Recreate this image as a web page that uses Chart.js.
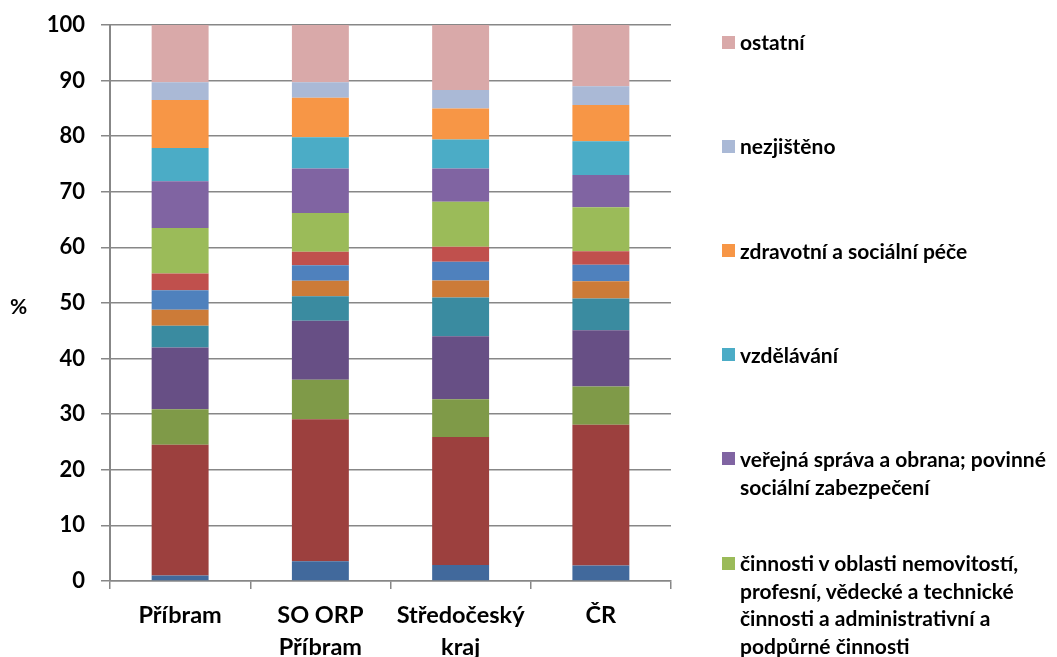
<!DOCTYPE html>
<html>
<head>
<meta charset="utf-8">
<script src="https://cdn.jsdelivr.net/npm/chart.js@4"></script>
<style>
  html, body { margin: 0; padding: 0; background: #fff; }
  #wrap { position: relative; width: 1057px; height: 657px; font-family: Lato, "Open Sans", sans-serif; font-weight: 700; color: #000; }
  #c { position: absolute; left: 0; top: 0; }
  #ytitle { position: absolute; left: 10px; top: 292px; font-size: 21px; line-height: 28px; }
  #legend { position: absolute; left: 722px; top: 0; width: 335px; }
  .li { position: absolute; left: 0; font-size: 21px; line-height: 27.5px; white-space: pre-line; }
  .li .box { position: absolute; left: 0; top: 7.25px; width: 13px; height: 13px; }
  .li .txt { position: absolute; left: 18px; top: 0; width: 320px; }
</style>
</head>
<body>
<div id="wrap">
  <canvas id="c" width="1057" height="657"></canvas>
  <div id="ytitle">%</div>
  <div id="legend"></div>
</div>
<script>
// Categories
const categories = ['Příbram', ['SO ORP', 'Příbram'], ['Středočeský', 'kraj'], 'ČR'];

// Series values (percent), bottom to top of each stack
const zemedelstvi   = [1.0, 3.55, 2.9, 2.8];
const prumysl       = [23.5, 25.55, 23.0, 25.3];
const stavebnictvi  = [6.4, 7.1, 6.8, 6.9];
const obchod        = [11.1, 10.6, 11.3, 10.1];
const doprava       = [3.9, 4.4, 7.0, 5.7];
const ubytovani     = [2.9, 2.8, 3.05, 3.1];
const informacni    = [3.5, 2.8, 3.35, 3.0];
const penezni       = [3.0, 2.4, 2.7, 2.4];
const nemovitosti   = [8.2, 7.0, 8.1, 7.9];
const verejnaSprava = [8.4, 8.0, 6.0, 5.8];
const vzdelavani    = [6.0, 5.6, 5.2, 6.1];
const zdravotni     = [8.6, 7.1, 5.6, 6.5];
const nezjisteno    = [3.2, 2.8, 3.3, 3.4];
const ostatni       = [10.3, 10.3, 11.7, 11.0];

// Series names
const seriesNames = [
  'zemědělství, lesnictví a rybářství',
  'průmysl',
  'stavebnictví',
  'velkoobchod a maloobchod; opravy a údržba motorových vozidel',
  'doprava a skladování',
  'ubytování, stravování a pohostinství',
  'informační a komunikační činnosti',
  'peněžnictví a pojišťovnictví',
  'činnosti v oblasti nemovitostí,\nprofesní, vědecké a technické\nčinnosti a administrativní a\npodpůrné činnosti',
  'veřejná správa a obrana; povinné\nsociální zabezpečení',
  'vzdělávání',
  'zdravotní a sociální péče',
  'nezjištěno',
  'ostatní'
];
const seriesValues = [zemedelstvi, prumysl, stavebnictvi, obchod, doprava, ubytovani, informacni,
  penezni, nemovitosti, verejnaSprava, vzdelavani, zdravotni, nezjisteno, ostatni];
const seriesColors = ['#41699C', '#9C403E', '#7F9A48', '#674F85', '#3A8BA0', '#CC7B38', '#4F81BD',
  '#C0504D', '#9BBB59', '#8064A2', '#4BACC6', '#F79646', '#AAB9D6', '#D9A9A9'];

// Y axis ticks
const yMin = 0, yMax = 100, yStep = 10;
// Number of legend entries visible (top series)
const legendCount = 6;

const datasets = seriesNames.map((name, i) => ({
  label: name,
  data: seriesValues[i],
  backgroundColor: seriesColors[i],
  borderWidth: 0,
  barPercentage: 0.406,
  categoryPercentage: 1.0
}));

const gridColor = '#878787';

const chart = new Chart(document.getElementById('c'), {
  type: 'bar',
  data: { labels: categories, datasets },
  options: {
    responsive: false,
    animation: false,
    layout: { padding: { top: 25, right: 386, bottom: 0, left: 0 } },
    plugins: { legend: { display: false }, tooltip: { enabled: false } },
    scales: {
      x: {
        stacked: true,
        grid: { display: true, offset: true, drawOnChartArea: false, drawTicks: true, tickLength: 8, color: gridColor, lineWidth: 1.5 },
        border: { display: true, color: gridColor, width: 1.5 },
        ticks: { color: '#000', font: { family: 'Lato', weight: 'bold', size: 23.5, lineHeight: 1.38 }, padding: 10, maxRotation: 0, autoSkip: false },
        afterFit(scale) { scale.height = 76; }
      },
      y: {
        stacked: true,
        min: yMin, max: yMax,
        grid: { color: gridColor, lineWidth: 1.5, drawTicks: true, tickLength: 9 },
        border: { display: true, color: gridColor, width: 2 },
        ticks: { stepSize: yStep, color: '#000', font: { family: 'Lato', weight: 'bold', size: 22, lineHeight: 0.8 }, padding: 16 },
        afterFit(scale) { scale.width = 110; }
      }
    }
  }
});

// HTML legend built from the chart's datasets (top series first)
const legend = document.getElementById('legend');
const ds = chart.data.datasets;
for (let k = 0; k < legendCount; k++) {
  const d = ds[ds.length - 1 - k];
  const item = document.createElement('div');
  item.className = 'li';
  item.style.top = (28.25 + k * 104.2) + 'px';
  const box = document.createElement('div');
  box.className = 'box';
  box.style.background = d.backgroundColor;
  const txt = document.createElement('div');
  txt.className = 'txt';
  txt.textContent = d.label;
  item.appendChild(box);
  item.appendChild(txt);
  legend.appendChild(item);
}
</script>
</body>
</html>
